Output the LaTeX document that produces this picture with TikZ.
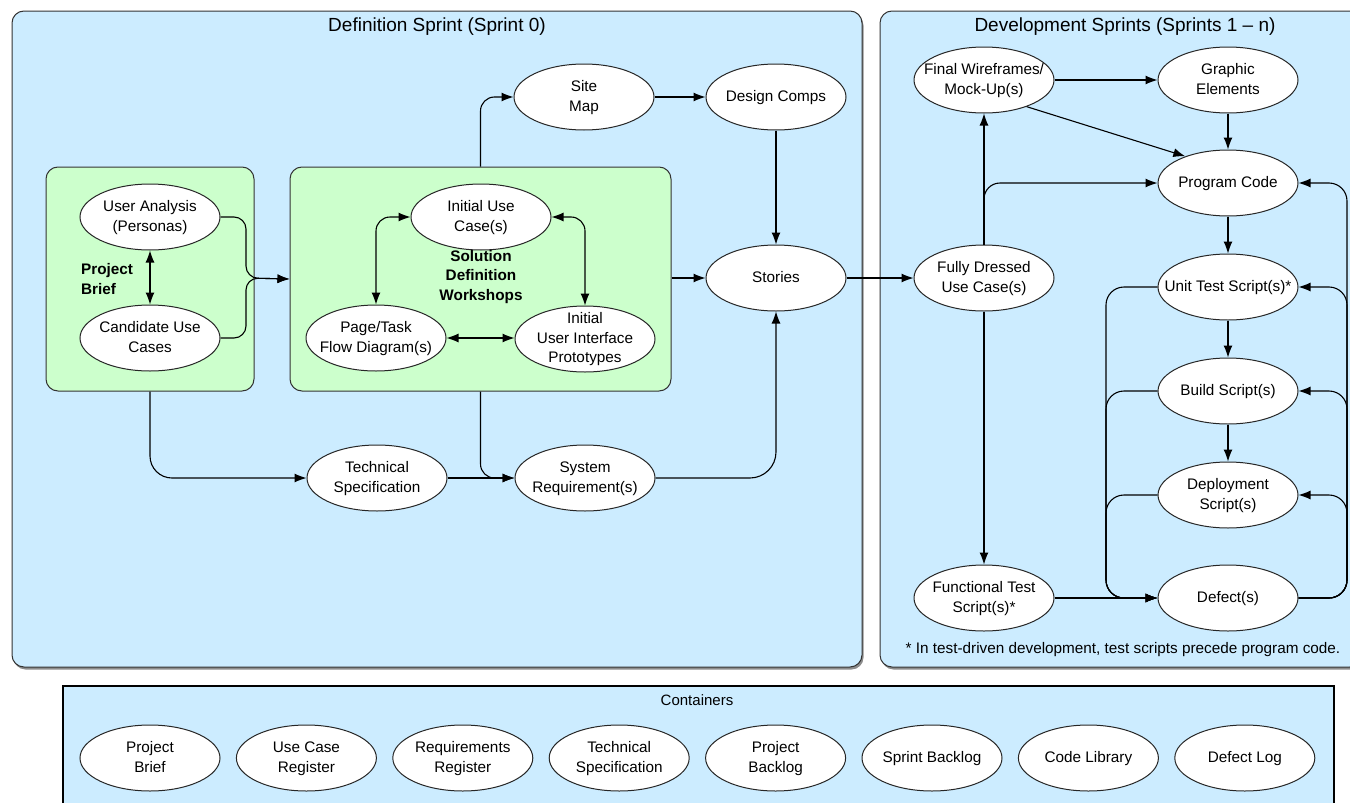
\documentclass[tikz,border=0pt]{standalone}
\usepackage{fontspec}
\setmainfont{Liberation Sans}
\usetikzlibrary{shapes.geometric,arrows.meta,shadows}

% centred multi-line label of zero size, so every ellipse keeps its set size
\newcommand\etx[1]{\makebox[0pt]{\smash{\raisebox{-0.25em}{\begin{tabular}{@{}c@{}}#1\end{tabular}}}}}

\definecolor{panelblue}{RGB}{204,236,255}
\definecolor{groupgreen}{RGB}{204,255,204}

\tikzset{
  panel/.style={draw=black!80, line width=1pt, fill=panelblue, rounded corners=12pt,
    inner sep=0pt, drop shadow={shadow xshift=1.5pt, shadow yshift=-2.5pt, fill=black!45, opacity=1}},
  grp/.style={draw=black!80, line width=1pt, fill=groupgreen, rounded corners=12pt, inner sep=0pt},
  el/.style={ellipse, draw=black!85, line width=1pt, fill=white, minimum width=140pt,
    minimum height=66pt, inner sep=0pt, font=\fontsize{15.3}{19.8}\selectfont},
  ttl/.style={font=\fontsize{19}{22}\selectfont, inner sep=0pt},
  lbl/.style={font=\fontsize{15.3}{19.8}\selectfont\bfseries, inner sep=0pt},
  con/.style={line width=1.1pt},
  arr/.style={con, -{Latex[length=12pt,width=9pt]}},
  darr/.style={con, {Latex[length=12pt,width=9pt]}-{Latex[length=12pt,width=9pt]}},
}

\begin{document}
\begin{tikzpicture}[x=1pt,y=-1pt]
\useasboundingbox (0,0) rectangle (1350,803);

% ---------- panels ----------
\node[panel, minimum width=850pt, minimum height=656pt] (defbox) at (437,339) {};
\node[panel, minimum width=482pt, minimum height=656pt] (devbox) at (1121,339) {};
\node[draw=black, line width=1.2pt, fill=panelblue, minimum width=1271pt, minimum height=144pt, inner sep=0pt] (contbox) at (698.5,758) {};

\node[ttl] (deftitle) at (437,27) {Definition Sprint (Sprint 0)};
\node[ttl] (devtitle) at (1125,27) {Development Sprints (Sprints 1 -- n)};
\node[font=\fontsize{15}{18}\selectfont, inner sep=0pt] (conttitle) at (697,700) {Containers};

% ---------- green groups ----------
\node[grp, minimum width=208pt, minimum height=224pt] (pbbox) at (150,279) {};
\node[grp, minimum width=381pt, minimum height=224pt] (wsbox) at (480.5,279) {};

% ---------- definition sprint ----------
\node[el] (ua)  at (150,217) {\etx{User Analysis\\(Personas)}};
\node[el] (cuc) at (150,338) {\etx{Candidate Use\\Cases}};
\node[lbl, anchor=west, align=left] (pblbl) at (81,279) {Project\\Brief};

\node[el] (iuc) at (481,217) {\etx{Initial Use\\Case(s)}};
\node[el] (ptf) at (376,338) {\etx{Page/Task\\Flow Diagram(s)}};
\node[el] (iui) at (585,339) {\etx{Initial\\User Interface\\Prototypes}};
\node[lbl, align=center] (wslbl) at (481,277) {Solution\\Definition\\Workshops};

\node[el] (sm) at (584,97)  {\etx{Site\\Map}};
\node[el] (dc) at (776,97)  {\etx{Design Comps}};
\node[el] (st) at (776,278) {\etx{Stories}};
\node[el] (ts) at (377,478) {\etx{Technical\\Specification}};
\node[el] (sr) at (585,478) {\etx{System\\Requirement(s)}};

% ---------- development sprints ----------
\node[el] (fw) at (984,80)   {\etx{Final Wireframes/\\Mock-Up(s)}};
\node[el] (ge) at (1228,80)  {\etx{Graphic\\Elements}};
\node[el] (pc) at (1228,183) {\etx{Program Code}};
\node[el] (fd) at (984,278)  {\etx{Fully Dressed\\Use Case(s)}};
\node[el] (ut) at (1228,287) {\etx{Unit Test Script(s)*}};
\node[el] (bs) at (1228,391) {\etx{Build Script(s)}};
\node[el] (ds) at (1228,495) {\etx{Deployment\\Script(s)}};
\node[el] (df) at (1228,598) {\etx{Defect(s)}};
\node[el] (ft) at (984,598)  {\etx{Functional Test\\Script(s)*}};
\node[font=\fontsize{15.3}{18}\selectfont, inner sep=0pt] (note) at (1123,650)
  {* In test-driven development, test scripts precede program code.};

% ---------- containers ----------
\foreach \n/\t [count=\i from 0] in {cpb/{Project\\Brief}, cucr/{Use Case\\Register},
    crr/{Requirements\\Register}, cts/{Technical\\Specification}, cpbl/{Project\\Backlog},
    csb/{Sprint Backlog}, ccl/{Code Library}, cdl/{Defect Log}}
  \node[el] (\n) at (150+156.4*\i,758) {\etx{\t}};

% ---------- connectors: definition sprint ----------
\coordinate (jbrace) at (246,278);
\draw[arr, rounded corners=12pt] (ua.east) -| (jbrace) -- (wsbox.west);
\draw[arr, rounded corners=12pt] (cuc.east) -| (jbrace) -- (wsbox.west);
\draw[darr] (ua) -- (cuc);

\draw[darr, rounded corners=14pt] (iuc.west) -| (ptf.north);
\draw[darr, rounded corners=14pt] (iuc.east) -| (iui.north);
\draw[darr] (ptf.east) -- (ptf.east -| iui.west);

\draw[arr, rounded corners=14pt] (wsbox.north) |- (sm.west);
\draw[arr] (sm) -- (dc);
\draw[arr] (dc) -- (st);
\draw[arr] (wsbox.east |- st.west) -- (st.west);
\draw[arr] (st.east) -- (fd.west);

\draw[arr, rounded corners=22pt] (pbbox.south) |- (ts.west);
\draw[arr] (ts) -- (sr);
\draw[arr, rounded corners=14pt] (wsbox.south) |- (sr.west);
\draw[arr, rounded corners=26pt] (sr.east) -| (st.south);

% ---------- connectors: development sprints ----------
\draw[arr] (fw) -- (ge);
\draw[arr] (ge) -- (pc);
\draw[arr] (fw.-32) -- (pc.148);
\draw[arr] (fd) -- (fw);
\draw[arr, rounded corners=16pt] (fd.north) |- (pc.west);
\draw[arr] (fd) -- (ft);
\draw[arr] (ft) -- (df);
\draw[arr] (pc) -- (ut);
\draw[arr] (ut) -- (bs);
\draw[arr] (bs) -- (ds);

% failures of any script lead to defects
\coordinate (lcol) at (1106,0);
\foreach \s in {ut,bs,ds}
  \draw[arr, rounded corners=18pt] (\s.west) -| (lcol |- df.west) -- (df.west);

% defects feed back into code and scripts
\coordinate (rcol) at (1347,0);
\foreach \s in {pc,ut,bs,ds}
  \draw[arr, rounded corners=18pt] (df.east) -| (rcol |- \s.east) -- (\s.east);
\end{tikzpicture}
\end{document}
